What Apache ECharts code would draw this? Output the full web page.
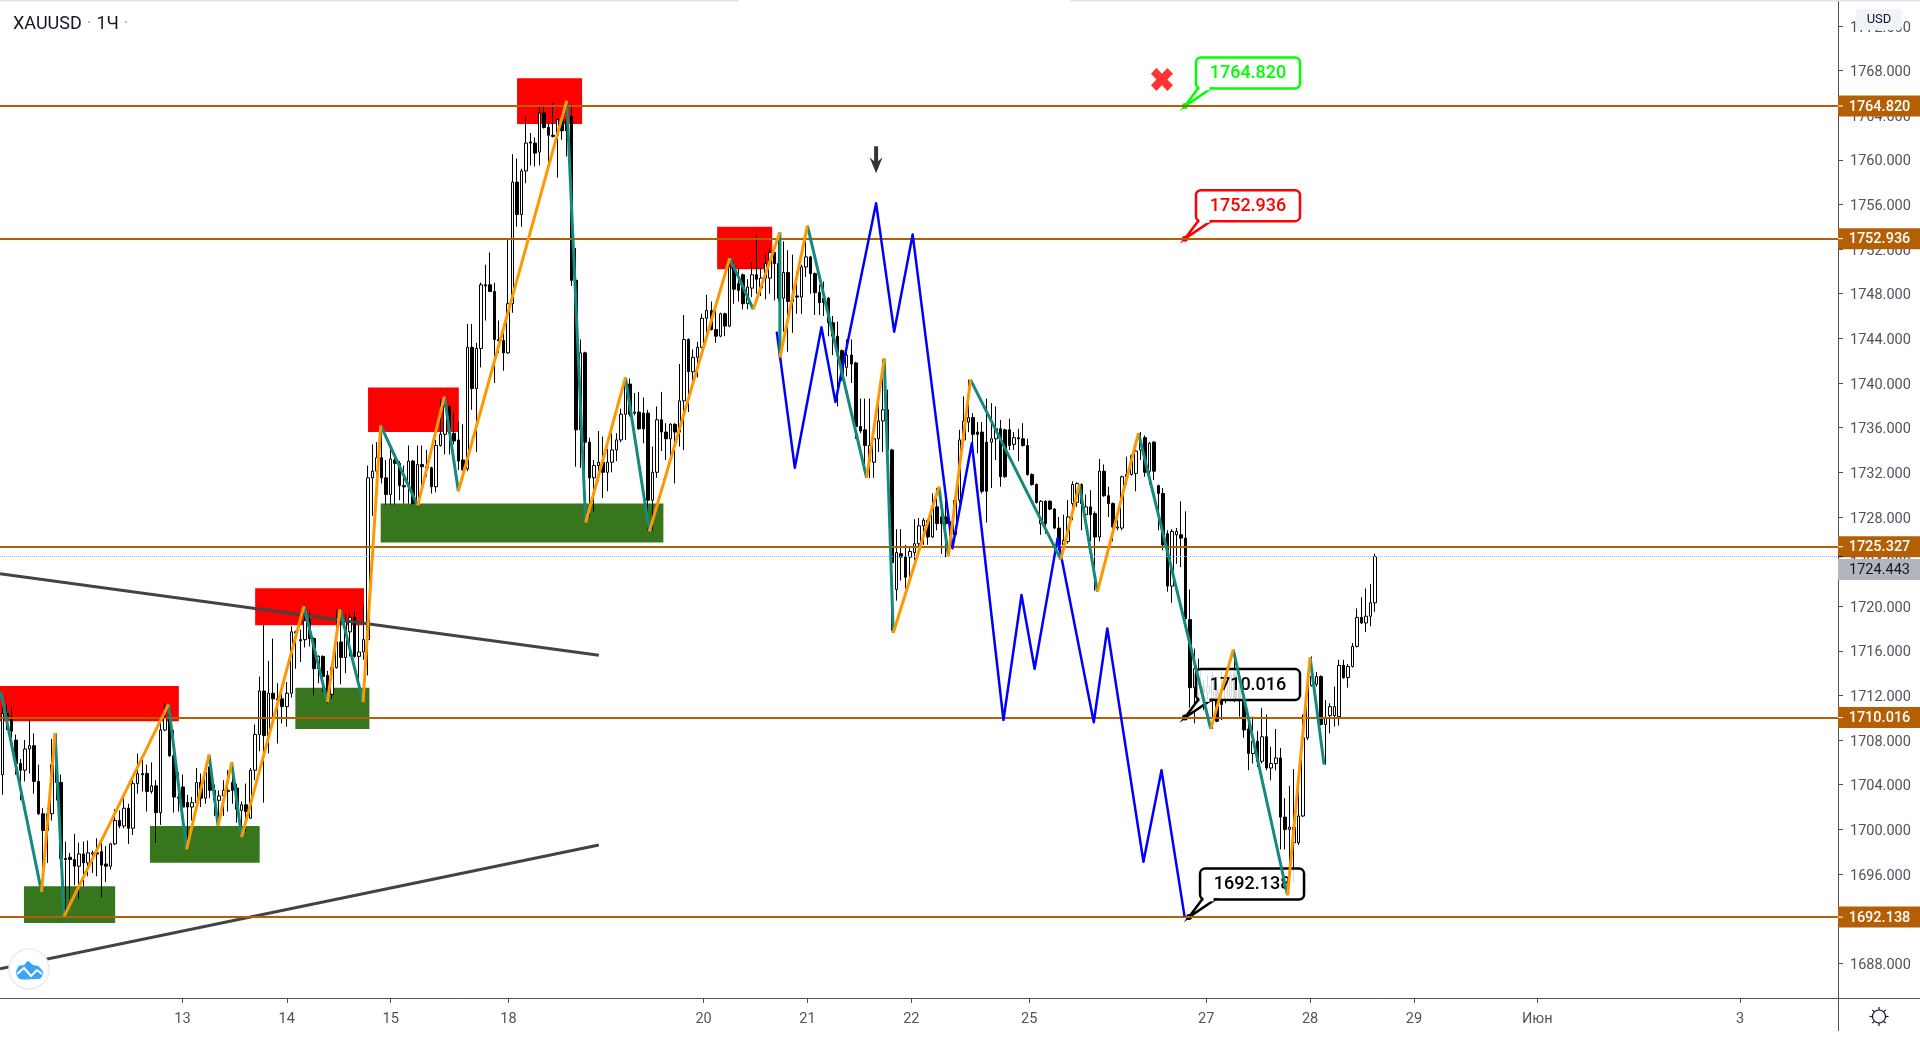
<!DOCTYPE html>
<html>
<head>
<meta charset="utf-8">
<title>XAUUSD</title>
<script src="https://cdn.jsdelivr.net/npm/echarts@6/dist/echarts.min.js"></script>
<style>
	html, body { margin: 0; padding: 0; background: #fff; }
	#chart { width: 1920px; height: 1038px; }
</style>
</head>
<body>
<div id="chart"></div>
<script>
	// hourly candles, one row per bar: open, close, low, high
	var candles = [
		[1704.9,1710.4,1703.1,1712.2],[1710.4,1710.0,1708.9,1711.2],[1710.0,1708.8,1708.0,1711.0],[1708.0,1705.9,1704.9,1708.5],
		[1705.9,1705.3,1702.6,1706.3],[1705.3,1707.2,1704.3,1708.0],[1707.2,1707.5,1705.0,1709.8],[1707.5,1704.3,1703.2,1708.6],
		[1704.3,1701.4,1701.3,1705.8],[1701.4,1699.9,1694.9,1701.9],[1699.9,1701.4,1697.0,1701.9],[1701.4,1705.8,1700.8,1708.1],
		[1705.8,1704.2,1702.6,1708.6],[1704.2,1697.4,1696.7,1704.9],[1697.4,1697.3,1692.2,1698.9],[1697.5,1697.3,1693.8,1697.9],
		[1697.3,1696.7,1695.0,1699.6],[1696.7,1697.8,1693.8,1698.8],[1697.8,1697.0,1694.9,1698.9],[1697.0,1697.9,1695.8,1699.0],
		[1697.8,1697.9,1696.1,1698.1],[1697.9,1697.8,1695.8,1699.2],[1698.0,1696.8,1693.9,1698.8],[1696.9,1696.7,1695.3,1698.5],
		[1696.7,1698.7,1696.4,1698.8],[1698.7,1700.8,1698.6,1701.8],[1700.8,1700.3,1700.1,1701.7],[1700.3,1701.9,1700.1,1703.2],
		[1701.9,1700.1,1698.7,1702.3],[1700.1,1704.1,1699.5,1704.7],[1704.1,1705.0,1703.2,1706.8],[1705.0,1704.9,1703.4,1706.4],
		[1705.0,1703.4,1701.6,1705.8],[1703.4,1703.9,1703.2,1706.0],[1703.9,1701.5,1698.8,1704.4],[1701.5,1708.9,1700.4,1710.1],
		[1708.9,1710.1,1708.8,1711.3],[1710.7,1706.6,1706.5,1711.0],[1706.6,1702.9,1701.5,1708.9],[1702.9,1702.8,1701.6,1705.1],
		[1703.8,1702.0,1700.6,1704.9],[1702.4,1702.0,1698.3,1703.1],[1702.0,1702.4,1700.8,1702.9],[1702.4,1704.2,1702.2,1705.5],
		[1704.2,1702.8,1702.0,1705.0],[1702.8,1705.1,1702.3,1705.5],[1705.6,1703.5,1702.8,1706.5],[1703.5,1702.6,1701.2,1704.0],
		[1702.6,1703.0,1700.6,1703.5],[1703.0,1703.5,1701.2,1704.4],[1703.4,1703.5,1701.6,1705.3],[1704.2,1703.5,1702.3,1706.0],
		[1703.7,1701.8,1700.6,1704.1],[1701.7,1702.2,1700.2,1702.5],[1702.2,1701.6,1699.8,1704.1],[1701.0,1705.3,1701.0,1705.5],
		[1705.3,1708.5,1704.4,1709.4],[1708.5,1712.4,1707.0,1713.7],[1712.4,1708.4,1702.4,1718.3],[1708.4,1712.2,1706.8,1715.1],
		[1712.2,1711.7,1709.8,1717.1],[1711.7,1711.6,1707.7,1713.1],[1711.7,1711.0,1709.5,1712.5],[1711.0,1712.2,1709.2,1713.2],
		[1712.2,1717.7,1711.8,1718.2],[1717.7,1717.6,1714.4,1717.8],[1717.0,1716.9,1715.0,1717.9],[1717.0,1718.7,1716.3,1720.0],
		[1718.8,1717.1,1716.4,1719.7],[1717.1,1714.4,1712.0,1717.2],[1714.4,1715.5,1713.1,1715.6],[1715.5,1713.7,1712.3,1715.6],
		[1713.8,1712.0,1711.3,1714.2],[1712.1,1714.5,1711.7,1714.6],[1714.5,1716.8,1714.4,1719.7],[1716.8,1715.4,1713.0,1718.8],
		[1715.4,1718.6,1714.0,1719.4],[1717.7,1719.0,1715.5,1719.3],[1719.0,1715.5,1715.4,1719.5],[1715.5,1715.9,1713.2,1718.3],
		[1715.9,1717.0,1715.2,1720.1],[1717.0,1731.5,1713.8,1732.6],[1731.5,1732.1,1728.1,1734.5],[1732.1,1733.3,1728.8,1734.7],
		[1733.3,1731.5,1731.0,1736.1],[1731.5,1730.0,1729.1,1733.1],[1730.0,1733.2,1729.1,1734.1],[1733.1,1732.8,1729.1,1733.7],
		[1732.8,1730.8,1729.5,1733.0],[1730.8,1730.7,1729.2,1732.6],[1730.8,1733.0,1729.2,1734.4],[1733.0,1729.2,1729.1,1733.1],
		[1729.1,1732.7,1728.9,1734.4],[1732.7,1732.5,1730.4,1734.4],[1732.5,1732.4,1731.6,1734.0],[1732.4,1730.7,1730.1,1732.5],
		[1730.7,1734.4,1730.2,1734.9],[1734.4,1735.4,1734.3,1738.5],[1735.4,1737.9,1733.6,1738.8],[1737.9,1735.5,1733.6,1738.0],
		[1735.5,1734.8,1734.5,1737.4],[1734.9,1733.0,1732.2,1736.5],[1733.1,1732.2,1732.1,1736.3],[1732.3,1743.2,1732.1,1745.3],
		[1743.2,1739.5,1737.6,1745.3],[1739.5,1743.1,1733.8,1743.6],[1743.1,1748.8,1741.4,1749.0],[1748.8,1748.7,1745.6,1750.6],
		[1748.8,1748.2,1748.2,1751.7],[1748.2,1743.9,1740.0,1749.0],[1743.9,1743.8,1742.7,1745.6],[1743.8,1742.7,1741.1,1745.0],
		[1742.7,1747.1,1742.6,1752.8],[1747.1,1758.0,1746.3,1760.5],[1758.0,1755.1,1754.0,1760.1],[1755.1,1759.0,1754.0,1759.2],
		[1759.0,1761.5,1757.9,1763.8],[1761.6,1761.5,1759.5,1762.4],[1761.5,1760.6,1759.4,1762.0],[1760.7,1764.2,1759.5,1764.8],
		[1764.2,1762.9,1762.8,1764.8],[1762.9,1762.2,1759.2,1763.2],[1762.2,1762.1,1762.0,1765.1],[1762.2,1763.6,1758.4,1763.7],
		[1763.6,1762.6,1761.8,1764.2],[1763.6,1762.6,1760.3,1764.6],[1763.9,1749.2,1748.7,1764.8],[1749.2,1735.8,1732.5,1752.1],
		[1735.8,1742.7,1732.4,1743.9],[1742.7,1734.7,1728.0,1742.8],[1734.7,1731.5,1728.0,1735.1],[1731.5,1732.6,1728.5,1733.1],
		[1732.6,1732.9,1731.2,1735.7],[1732.9,1732.0,1729.7,1735.2],[1732.0,1732.9,1730.3,1734.1],[1732.9,1734.0,1732.0,1735.5],
		[1734.0,1734.9,1733.0,1735.5],[1734.9,1737.2,1734.7,1737.7],[1737.2,1739.9,1734.9,1740.4],[1739.9,1737.2,1737.0,1740.4],
		[1737.3,1737.4,1737.1,1739.1],[1737.4,1735.9,1735.8,1739.2],[1737.3,1735.9,1734.6,1738.7],[1737.3,1729.5,1726.8,1737.6],
		[1729.5,1732.0,1726.8,1734.3],[1732.0,1736.7,1731.5,1737.9],[1736.7,1735.6,1733.9,1739.2],[1735.6,1735.0,1733.1,1736.4],
		[1735.0,1736.3,1733.1,1736.4],[1736.3,1735.6,1731.0,1736.4],[1735.6,1738.4,1734.3,1741.7],[1738.4,1743.9,1734.0,1746.1],
		[1743.9,1741.0,1737.4,1744.0],[1741.0,1742.3,1739.5,1743.0],[1742.3,1743.2,1740.5,1743.7],[1743.2,1745.8,1743.1,1746.2],
		[1745.8,1746.5,1743.7,1747.9],[1746.5,1744.8,1744.7,1747.3],[1744.8,1744.2,1743.6,1747.0],[1744.2,1746.2,1744.1,1746.3],
		[1746.2,1745.1,1744.2,1746.3],[1745.1,1750.4,1745.0,1751.3],[1750.4,1748.4,1747.1,1750.9],[1748.9,1748.3,1747.3,1750.3],
		[1749.7,1747.1,1746.6,1749.8],[1747.1,1748.6,1746.6,1749.3],[1748.5,1749.7,1747.7,1750.8],[1749.7,1749.3,1748.0,1753.3],
		[1748.5,1749.4,1747.8,1750.3],[1749.4,1750.7,1747.5,1751.6],[1749.4,1751.7,1748.0,1752.1],[1751.7,1750.7,1747.4,1751.9],
		[1750.7,1747.6,1747.3,1753.5],[1747.6,1749.9,1744.6,1752.7],[1749.9,1747.3,1742.8,1751.9],[1747.8,1747.3,1744.5,1751.5],
		[1747.8,1747.7,1746.2,1750.0],[1747.7,1750.4,1746.2,1750.6],[1750.4,1751.3,1749.5,1752.8],[1751.3,1749.8,1748.0,1751.4],
		[1749.8,1748.1,1746.1,1749.9],[1748.1,1747.2,1746.1,1748.8],[1747.6,1747.2,1746.0,1749.1],[1747.6,1745.4,1744.2,1747.7],
		[1745.4,1744.2,1742.5,1746.0],[1744.2,1742.5,1737.9,1745.5],[1742.9,1740.3,1740.2,1743.0],[1741.4,1742.5,1740.6,1743.9],
		[1742.5,1741.7,1740.0,1743.9],[1741.8,1736.1,1735.0,1741.9],[1736.1,1735.7,1735.5,1738.6],[1735.8,1734.4,1731.9,1738.6],
		[1733.0,1734.4,1731.5,1738.6],[1732.9,1735.0,1731.5,1735.1],[1735.0,1736.6,1733.8,1738.6],[1736.6,1737.6,1733.8,1742.1],
		[1737.6,1734.0,1733.1,1739.4],[1734.0,1723.9,1717.8,1734.1],[1721.5,1724.8,1720.5,1726.9],[1724.7,1724.4,1722.3,1726.9],
		[1724.4,1722.6,1721.6,1725.5],[1724.4,1724.9,1722.3,1725.2],[1724.8,1725.6,1724.1,1727.8],[1725.6,1727.2,1724.7,1727.9],
		[1727.2,1727.7,1725.5,1727.9],[1727.7,1726.2,1725.5,1727.8],[1726.2,1728.9,1726.1,1730.1],[1728.9,1727.4,1726.8,1730.6],
		[1728.0,1727.4,1724.7,1728.8],[1728.0,1727.4,1724.4,1730.1],[1727.5,1726.3,1726.2,1727.6],[1726.4,1729.5,1726.3,1729.8],
		[1729.5,1734.9,1729.2,1735.8],[1734.9,1736.6,1734.8,1738.8],[1736.5,1736.9,1735.6,1740.3],[1736.9,1735.4,1734.6,1737.3],
		[1735.6,1735.4,1733.7,1736.5],[1735.6,1730.3,1730.1,1736.5],[1734.7,1730.3,1727.5,1738.6],[1734.7,1735.0,1730.6,1738.2],
		[1735.0,1735.9,1733.1,1737.9],[1735.9,1731.6,1730.7,1736.7],[1735.8,1731.6,1731.5,1735.9],[1735.8,1734.4,1734.0,1736.8],
		[1734.5,1735.1,1734.0,1735.6],[1735.1,1735.0,1733.0,1735.9],[1735.0,1734.4,1734.3,1736.4],[1734.4,1731.8,1731.7,1735.0],
		[1731.8,1730.9,1730.8,1731.9],[1730.9,1729.3,1729.2,1731.0],[1727.4,1729.4,1726.4,1729.5],[1729.4,1727.4,1726.5,1729.5],
		[1729.4,1728.7,1728.6,1729.5],[1728.7,1727.0,1726.9,1728.8],[1727.0,1725.5,1725.0,1728.0],[1725.5,1725.9,1725.1,1728.2],
		[1725.8,1728.0,1725.6,1729.5],[1729.2,1730.9,1727.7,1731.2],[1729.3,1731.0,1728.9,1731.1],[1730.9,1729.2,1726.8,1731.0],
		[1728.2,1728.9,1728.0,1730.0],[1728.9,1728.2,1725.8,1730.4],[1728.3,1726.2,1721.4,1728.5],[1726.2,1732.1,1725.8,1733.2],
		[1732.1,1729.9,1729.8,1732.7],[1729.9,1729.2,1728.0,1730.7],[1729.2,1727.1,1725.8,1729.3],[1727.0,1727.1,1726.8,1727.7],
		[1727.0,1731.6,1726.8,1731.7],[1731.6,1731.8,1730.9,1733.4],[1731.8,1733.5,1731.7,1733.6],[1731.9,1733.9,1730.3,1734.0],
		[1734.0,1734.7,1733.1,1735.6],[1735.1,1732.0,1731.6,1735.3],[1732.1,1734.6,1730.9,1734.7],[1734.7,1732.1,1731.3,1734.8],
		[1730.8,1730.1,1726.8,1730.9],[1730.1,1725.5,1725.0,1730.6],[1726.5,1721.8,1721.3,1726.8],[1721.8,1726.7,1720.3,1726.9],
		[1726.4,1726.7,1723.8,1727.0],[1726.4,1726.1,1723.5,1729.4],[1726.1,1718.9,1718.8,1728.5],[1718.8,1712.7,1710.9,1721.5],
		[1712.7,1714.4,1709.5,1716.2],[1712.2,1714.4,1711.0,1715.3],[1712.8,1712.3,1710.7,1713.4],[1712.2,1712.8,1711.6,1713.8],
		[1711.6,1713.7,1709.0,1714.1],[1712.5,1709.7,1709.6,1713.1],[1711.6,1711.2,1709.8,1714.1],[1711.6,1713.8,1711.3,1714.0],
		[1711.9,1713.8,1711.7,1714.1],[1714.0,1711.7,1711.4,1716.1],[1712.8,1711.5,1710.1,1713.1],[1711.5,1708.9,1708.2,1711.9],
		[1709.0,1706.8,1705.3,1709.5],[1706.8,1707.9,1705.9,1710.1],[1707.9,1706.1,1705.6,1708.8],[1706.1,1708.3,1705.9,1710.9],
		[1708.3,1705.5,1705.3,1710.3],[1705.5,1705.9,1704.4,1707.4],[1705.9,1706.4,1705.3,1709.0],[1706.4,1701.1,1698.2,1707.3],
		[1701.1,1700.0,1698.2,1702.8],[1700.0,1700.2,1694.1,1703.9],[1698.8,1700.2,1695.2,1705.4],[1698.8,1701.2,1698.6,1703.8],
		[1701.2,1708.2,1701.1,1710.3],[1708.2,1712.9,1708.0,1713.7],[1712.9,1713.7,1712.8,1715.5],[1713.0,1713.7,1712.8,1714.1],
		[1713.7,1709.4,1709.3,1713.8],[1709.4,1710.0,1705.8,1711.6],[1710.2,1711.0,1708.6,1711.3],[1710.2,1711.0,1709.2,1712.8],
		[1710.1,1714.7,1709.3,1715.2],[1714.7,1713.6,1713.5,1715.2],[1713.6,1714.6,1712.7,1714.8],[1714.6,1716.4,1714.5,1716.7],
		[1716.4,1719.0,1716.3,1719.8],[1719.0,1718.5,1718.4,1720.8],[1718.5,1719.1,1717.7,1721.6],[1719.1,1720.3,1718.2,1722.0],
		[1720.3,1724.443,1719.5,1724.7]
	];

	// x values below are in bars (one bar = one hour slot on the time axis)
	var barCount = 407;
	var yMin = 1684.89;
	var yMax = 1774.32;
	var priceTicks = [1688,1692,1696,1700,1704,1708,1712,1716,1720,1724,1728,1732,1736,1740,1744,1748,1752,1756,1760,1764,1768,1772];
	var dayTicks = [40.4,63.5,86.5,112.6,155.8,178.8,201.8,227.9,267.1,290.1,313.1,340.4,385.3];
	var dayLabels = ['13','14','15','18','20','21','22','25','27','28','29','Июн','3'];

	var levelPrices = [1764.82,1752.936,1725.327,1710.016,1692.138];
	var lastPrice = 1724.443;

	// zigzag pivots, first leg is teal then orange in turn
	var zigzagBars = [0.2,9.2,12.2,14.2,37.3,41.3,46.3,48.3,51.3,53.5,67.3,72.5,75.3,80.4,84.3,92.5,98.4,101.5,125.5,129.7,138.5,143.8,161.6,166.8,172.7,172.7,178.8,191.9,195.8,197.8,207.9,210,214.9,234.9,239,243,252.1,268.1,273.1,285.1,290.1,293.2];
	var zigzagPrices = [1712.3,1694.4,1708.6,1692.2,1711.2,1698.2,1706.7,1700.3,1706.0,1699.3,1720.0,1711.4,1719.7,1711.4,1736.2,1729.0,1738.8,1730.3,1765.3,1727.5,1740.5,1726.7,1751.2,1746.6,1753.5,1742.3,1754.1,1731.5,1742.2,1717.6,1730.7,1724.5,1740.3,1724.2,1730.9,1721.3,1735.5,1709.0,1716.1,1694.1,1715.4,1705.8];

	var blueBars = [172.0,176.0,181.9,185.0,194.0,198.0,202.1,210.9,215.2,222.2,226.2,229.1,234.2,242.2,245.2,253.2,257.2,262.3];
	var bluePrices = [1744.6,1732.4,1745.0,1738.3,1756.1,1744.6,1753.3,1725.2,1734.6,1709.8,1721.0,1714.4,1726.1,1709.6,1718.0,1697.1,1705.3,1692.2];

	var upperTrendBars = [0,132.6];
	var upperTrendPrices = [1722.9,1715.6];
	var lowerTrendBars = [0,132.6];
	var lowerTrendPrices = [1687.5,1698.6];

	// zones: bar from, bar to, price top, price bottom
	var redZones = [[0,39.6,1712.85,1709.7],[56.5,80.6,1721.6,1718.3],[81.5,101.6,1739.6,1735.6],[114.5,128.9,1767.3,1763.2],[158.8,171,1754.0,1750.2]];
	var greenZones = [[5.3,25.5,1694.9,1691.6],[33.2,57.5,1700.3,1697.0],[65.4,81.8,1712.7,1709.0],[84.3,146.9,1729.2,1725.7]];

	var calloutBars = [262.4,262.4,262.4,263.3];
	var calloutPrices = [1764.82,1752.936,1710.016,1692.138];
	var calloutColors = ['#00ff00','#ff0000','#000000','#000000'];

	var axisColor = '#50535e';
	var fontName = 'Roboto, sans-serif';

	var barIndex = [];
	for (var i = 0; i < barCount; i++) {
		barIndex.push(i);
	}

	function toLine(xs, ys) {
		var out = [];
		for (var i = 0; i < xs.length; i++) {
			out.push([xs[i], ys[i]]);
		}
		return out;
	}

	// split the zigzag in two dashed up series, one per colour
	var tealLegs = [];
	var orangeLegs = [];
	for (var k = 0; k < zigzagBars.length - 1; k++) {
		var legs = k % 2 == 0 ? tealLegs : orangeLegs;
		legs.push([zigzagBars[k], zigzagPrices[k]]);
		legs.push([zigzagBars[k + 1], zigzagPrices[k + 1]]);
		legs.push(['-', '-']);
	}

	function lineSeries(data, color, width, z) {
		return {
			type: 'line',
			xAxisIndex: 1,
			data: data,
			showSymbol: false,
			symbol: 'none',
			silent: true,
			z: z,
			lineStyle: { color: color, width: width, join: 'round' }
		};
	}

	function renderZone(params, api) {
		var a = api.coord([api.value(0), api.value(2)]);
		var b = api.coord([api.value(1), api.value(3)]);
		return {
			type: 'rect',
			shape: { x: a[0], y: a[1], width: b[0] - a[0], height: b[1] - a[1] },
			style: { fill: api.value(4) == 1 ? '#ff0000' : '#38761d' }
		};
	}

	function renderCallout(params, api) {
		var p = api.coord([api.value(0), api.value(1)]);
		var color = calloutColors[params.dataIndex];
		var left = p[0] + 11;
		var top = p[1] - 48.5;
		var bottom = top + 31;
		return {
			type: 'group',
			children: [
				{ type: 'rect', shape: { x: left, y: top, width: 104, height: 31, r: 5 }, style: { fill: 'rgba(255,255,255,0.85)', stroke: color, lineWidth: 2.5 } },
				{ type: 'polygon', shape: { points: [[p[0], p[1]], [left + 2, bottom], [left + 15, bottom]] }, style: { fill: '#fff', stroke: color, lineWidth: 2.5 } },
				{ type: 'line', shape: { x1: left + 3.5, y1: bottom, x2: left + 13.5, y2: bottom }, style: { stroke: '#fff', lineWidth: 3.5 } },
				{ type: 'circle', shape: { cx: p[0], cy: p[1], r: 3 }, style: { fill: color } },
				{ type: 'text', x: left + 52, y: top + 16, style: { text: api.value(1).toFixed(3), fill: color, font: '500 18px ' + fontName, align: 'center', verticalAlign: 'middle' } }
			]
		};
	}

	function renderTag(params, api) {
		var isLast = api.value(0) == lastPrice;
		var p = api.coord([barCount, api.value(0)]);
		var cy = p[1] + (isLast ? 13 : 0);
		return {
			type: 'group',
			children: [
				{ type: 'rect', shape: { x: p[0], y: cy - 10.5, width: 82, height: 21 }, style: { fill: isLast ? '#b2b5be' : '#b45f06' } },
				{ type: 'line', shape: { x1: p[0], y1: p[1], x2: p[0] + 5, y2: p[1] }, style: { stroke: isLast ? '#131722' : '#fff', lineWidth: 1 } },
				{ type: 'text', x: p[0] + 41.5, y: cy + 1, style: { text: api.value(0).toFixed(3), fill: isLast ? '#131722' : '#fff', font: (isLast ? '400' : '500') + ' 14.5px ' + fontName, align: 'center', verticalAlign: 'middle' } }
			]
		};
	}

	var zoneData = [];
	redZones.forEach(function (z) { zoneData.push(z.concat([1])); });
	greenZones.forEach(function (z) { zoneData.push(z.concat([0])); });

	// settings wheel rays, drawn as short strokes round the centre
	var gearRays = [[1879,1007,1879,1010],[1879,1023,1879,1026],[1869.5,1016.5,1872.5,1016.5],[1885.5,1016.5,1888.5,1016.5],[1872.3,1009.8,1874.4,1011.9],[1883.6,1021.1,1885.7,1023.2],[1885.7,1009.8,1883.6,1011.9],[1874.4,1021.1,1872.3,1023.2]];

	var graphics = [
		{ type: 'line', z: 20, shape: { x1: 0, y1: 0.5, x2: 739, y2: 0.5 }, style: { stroke: '#e0e3eb', lineWidth: 2 } },
		{ type: 'line', z: 20, shape: { x1: 1070, y1: 0.5, x2: 1920, y2: 0.5 }, style: { stroke: '#e0e3eb', lineWidth: 2 } },
		{ type: 'line', z: 20, shape: { x1: 1838.5, y1: 998, x2: 1838.5, y2: 1031 }, style: { stroke: axisColor, lineWidth: 1 } },
		{ type: 'line', z: 20, shape: { x1: 1838, y1: 998.5, x2: 1920, y2: 998.5 }, style: { stroke: axisColor, lineWidth: 1 } },
		{ type: 'rect', z: 21, shape: { x: 1856, y: 9, width: 46, height: 21, r: 4 }, style: { fill: '#f0f3fa' } },
		{ type: 'text', z: 22, x: 1879, y: 19.5, style: { text: 'USD', fill: '#131722', font: '13px ' + fontName, align: 'center', verticalAlign: 'middle' } },
		{ type: 'circle', z: 21, shape: { cx: 1879, cy: 1016.5, r: 6.5 }, style: { fill: '#fff', stroke: '#131722', lineWidth: 1.2 } },
		// tradingview badge
		{ type: 'circle', z: 21, shape: { cx: 29, cy: 969, r: 20 }, style: { fill: '#fff', stroke: '#ebebeb', lineWidth: 1.5 } },
		{ type: 'polygon', z: 22, shape: { smooth: 0.3, points: [[16,973],[19,966],[24,965],[28,961],[33,965],[38,966],[43,972],[41,978],[36,979],[20,979]] }, style: { fill: '#3ba5f5' } },
		{ type: 'polyline', z: 23, shape: { points: [[17,974],[24,968],[31,976],[37,970],[42,974]] }, style: { fill: 'none', stroke: '#fff', lineWidth: 2 } }
	];
	gearRays.forEach(function (r) {
		graphics.push({ type: 'line', z: 21, shape: { x1: r[0], y1: r[1], x2: r[2], y2: r[3] }, style: { stroke: '#131722', lineWidth: 1.2 } });
	});

	var chart = echarts.init(document.getElementById('chart'));
	chart.setOption({
		animation: false,
		backgroundColor: '#fff',
		title: {
			left: 8,
			top: 10,
			text: '{a|XAUUSD} {d|·} {a|1Ч} {d|·}',
			textStyle: {
				rich: {
					a: { fontFamily: fontName, fontSize: 18, fontWeight: 400, color: '#131722' },
					d: { fontFamily: fontName, fontSize: 18, fontWeight: 400, color: '#b2b5be' }
				}
			}
		},
		grid: { left: 0, top: 0, width: 1838, height: 998, containLabel: false },
		xAxis: [{
			type: 'category',
			data: barIndex,
			show: false
		}, {
			type: 'value',
			min: 0,
			max: barCount,
			position: 'bottom',
			splitLine: { show: false },
			axisLine: { show: true, onZero: false, lineStyle: { color: axisColor } },
			axisTick: { show: true, length: 5, customValues: dayTicks, lineStyle: { color: axisColor } },
			axisLabel: {
				customValues: dayTicks,
				margin: 14,
				color: axisColor,
				fontFamily: fontName,
				fontSize: 14.5,
				formatter: function (v) { return dayLabels[dayTicks.indexOf(v)]; }
			}
		}],
		yAxis: {
			type: 'value',
			position: 'right',
			min: yMin,
			max: yMax,
			splitLine: { show: false },
			axisLine: { show: true, onZero: false, lineStyle: { color: axisColor } },
			axisTick: { show: true, length: 5, customValues: priceTicks, lineStyle: { color: axisColor } },
			axisLabel: {
				customValues: priceTicks,
				margin: 12,
				formatter: function (v) { return '{p|' + v.toFixed(3) + '}'; },
				rich: {
					p: { padding: [4, 0, 0, 0], color: axisColor, fontFamily: fontName, fontSize: 14.5 }
				}
			}
		},
		series: [{
			type: 'custom',
			xAxisIndex: 1,
			z: 1,
			silent: true,
			renderItem: renderZone,
			data: zoneData,
			encode: { x: [0, 1], y: [2, 3] }
		}, {
			type: 'candlestick',
			xAxisIndex: 0,
			z: 2,
			silent: true,
			barWidth: 3,
			data: candles,
			itemStyle: { color: '#fff', color0: '#000', borderColor: '#000', borderColor0: '#000', borderWidth: 1 }
		}, {
			type: 'custom',
			xAxisIndex: 1,
			z: 3,
			silent: true,
			renderItem: renderCallout,
			data: toLine(calloutBars, calloutPrices),
			encode: { x: 0, y: 1 }
		}, {
			type: 'line',
			xAxisIndex: 1,
			data: [],
			z: 4,
			silent: true,
			markLine: {
				silent: true,
				symbol: 'none',
				animation: false,
				label: { show: false },
				lineStyle: { color: '#b45f06', width: 2, type: 'solid' },
				data: levelPrices.map(function (p) { return { yAxis: p }; }).concat([
					{ yAxis: lastPrice, lineStyle: { color: '#b2b5be', width: 1, type: 'dotted' } }
				])
			}
		},
		lineSeries(toLine(upperTrendBars, upperTrendPrices), '#434343', 3, 4),
		lineSeries(toLine(lowerTrendBars, lowerTrendPrices), '#434343', 3, 4),
		lineSeries(toLine(blueBars, bluePrices), '#0000ff', 2.5, 5),
		lineSeries(tealLegs, '#138a7d', 3, 6),
		lineSeries(orangeLegs, '#ff9800', 3, 7),
		{
			type: 'scatter',
			xAxisIndex: 1,
			z: 7,
			silent: true,
			data: [[257.3, 1767.2]],
			symbol: 'path://M6 0 L12 6 L18 0 L24 6 L18 12 L24 18 L18 24 L12 18 L6 24 L0 18 L6 12 L0 6 Z',
			symbolSize: [22, 23],
			itemStyle: { color: '#ff0000' }
		}, {
			type: 'scatter',
			xAxisIndex: 1,
			z: 7,
			silent: true,
			data: [[194.0, 1760.0]],
			symbol: 'path://M4.5 0 L8.5 0 L8.5 15 L13 11 L6.5 27 L0 11 L4.5 15 Z',
			symbolSize: [13, 27],
			itemStyle: { color: '#000' }
		}, {
			type: 'custom',
			xAxisIndex: 1,
			z: 9,
			silent: true,
			renderItem: renderTag,
			data: levelPrices.concat([lastPrice]).map(function (p) { return [p]; }),
			encode: { y: 0 }
		}],
		graphic: graphics
	});
</script>
</body>
</html>
